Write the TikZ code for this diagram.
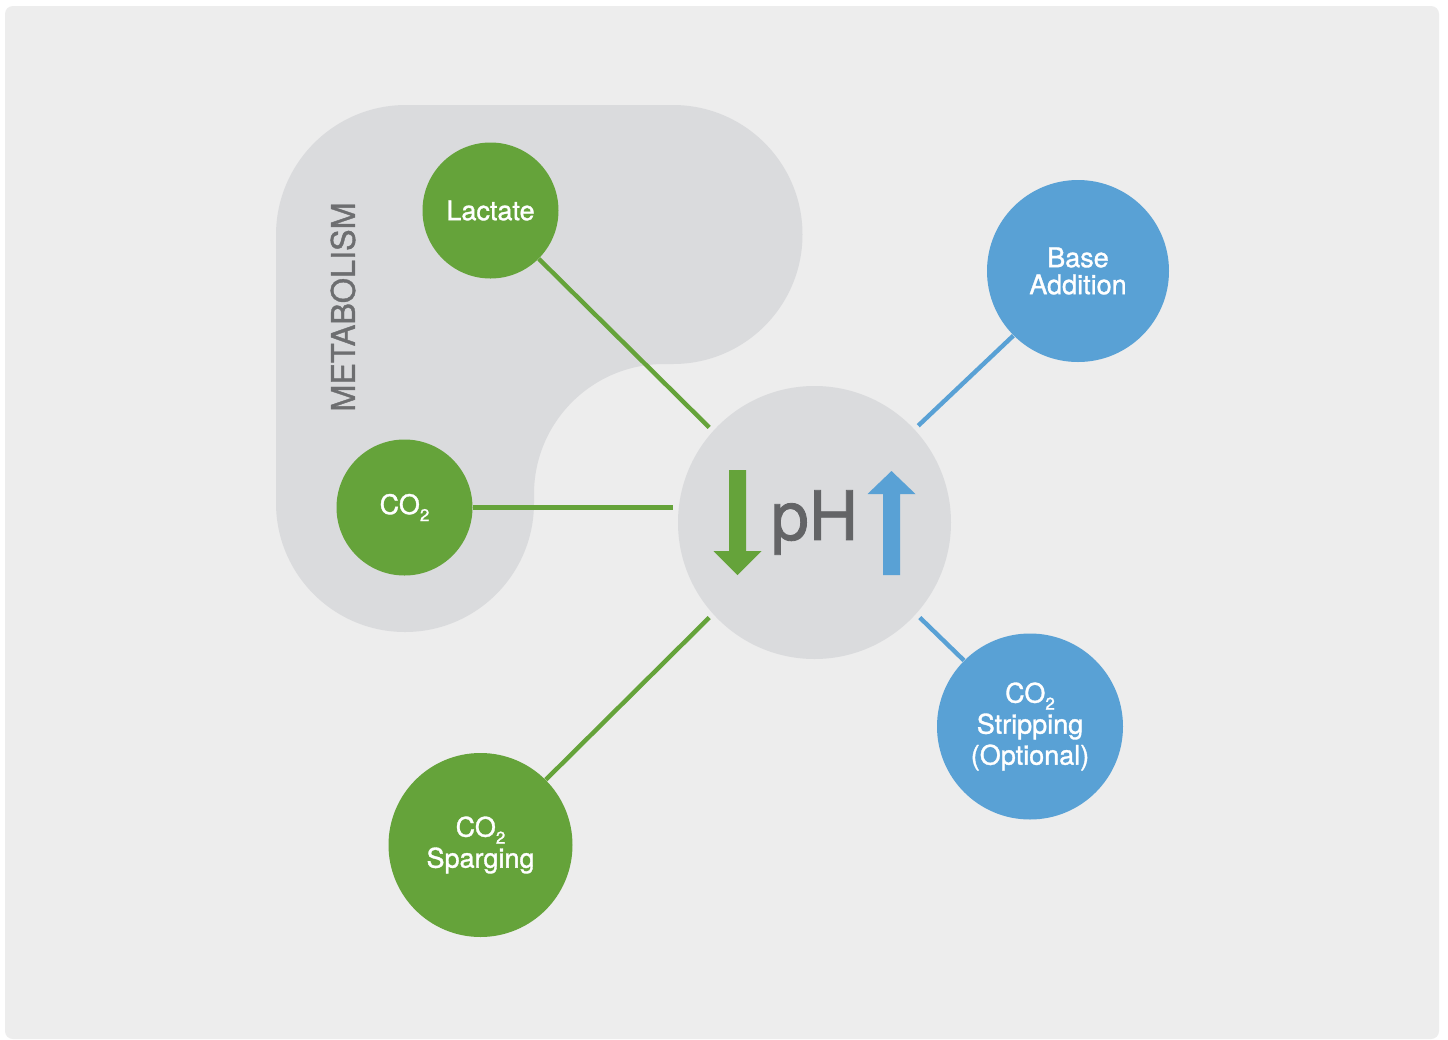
\documentclass[tikz,border=0pt]{standalone}
\usepackage{fontspec}
\setmainfont{TeX Gyre Heros}
\newfontfamily\heavyfont{TeX Gyre Heros}[FakeBold=1.2]
\usetikzlibrary{calc}
\definecolor{panelgrey}{HTML}{EDEDED}
\definecolor{metagrey}{HTML}{DADBDD}
\definecolor{acidgreen}{HTML}{65A33A}
\definecolor{alkaliblue}{HTML}{59A1D5}
\definecolor{phgrey}{HTML}{636466}
\definecolor{labelgrey}{HTML}{6D6E70}
\newcommand{\cotwo}{CO\raisebox{-3.5pt}{\fontsize{8.5}{8.5}\selectfont 2}}
\tikzset{
  bubble/.style={
    circle,
    inner sep=0pt,
    align=center,
    text=white,
    font=\heavyfont\fontsize{13.5}{15.5}\selectfont
  },
  acid/.style={
    bubble,
    fill=acidgreen
  },
  alkali/.style={
    bubble,
    fill=alkaliblue
  },
  acidlink/.style={draw=acidgreen, line width=2.2pt, shorten >=2.5pt},
  alkalilink/.style={draw=alkaliblue, line width=2.2pt, shorten >=2.5pt}
}
\begin{document}
\begin{tikzpicture}[x=0.5pt, y=-0.5pt]
  \useasboundingbox (0,0) rectangle (1448,1040);
  \fill[white] (0,0) rectangle (1448,1040);
  \fill[panelgrey, rounded corners=4pt] (5,6) rectangle (1439,1039);
  \fill[metagrey] (276,235) arc[start angle=180, end angle=270, radius=130]
    -- (673,105) arc[start angle=270, end angle=450, radius=129.5]
    -- (664,364) arc[start angle=270, end angle=180, radius=130]
    -- (534,503) arc[start angle=0, end angle=180, radius=129] -- cycle;

  \node[rotate=90, text=labelgrey, font=\heavyfont\fontsize{16.2}{16.2}\selectfont] (metabolism) at (343,307) {METABOLISM};

  \node[acid, minimum size=68pt] (lactate) at (490.5,210.5) {Lactate};
  \node[acid, minimum size=68pt] (co2) at (404.5,507.5) {\cotwo};
  \node[acid, minimum size=92pt] (sparge) at (480.5,845) {\cotwo\\Sparging};
  \node[alkali, minimum size=91pt, font=\heavyfont\fontsize{13.5}{13.5}\selectfont] (base) at (1078,271) {Base\\Addition};
  \node[alkali, minimum size=93pt] (strip) at (1030,726.5) {\cotwo\\Stripping\\(Optional)};
  \node[circle, fill=metagrey, minimum size=136.5pt, inner sep=0pt, text=phgrey,
        font=\heavyfont\fontsize{34}{34}\selectfont] (ph) at (814.5,522.5) {pH};

  \begin{scope}[shift={(ph.center)}]
    \fill[acidgreen] (-85.5,-52.5) -- (-68.5,-52.5) -- (-68.5,28.5) -- (-53,28.5)
      -- (-77,52.5) -- (-101,28.5) -- (-85.5,28.5) -- cycle;
    \fill[alkaliblue] (68.5,52.5) -- (85.5,52.5) -- (85.5,-28.5) -- (101,-28.5)
      -- (77,-51.5) -- (53,-28.5) -- (68.5,-28.5) -- cycle;
  \end{scope}

  \draw[acidlink] (lactate.-45) -- (ph.138);
  \draw[acidlink] (co2.east) -- (co2.east -| ph.west);
  \draw[acidlink] (sparge.45) -- (ph.-138);
  \draw[alkalilink] (base.225) -- (ph.43);
  \draw[alkalilink] (strip.135) -- (ph.-42);
\end{tikzpicture}
\end{document}
